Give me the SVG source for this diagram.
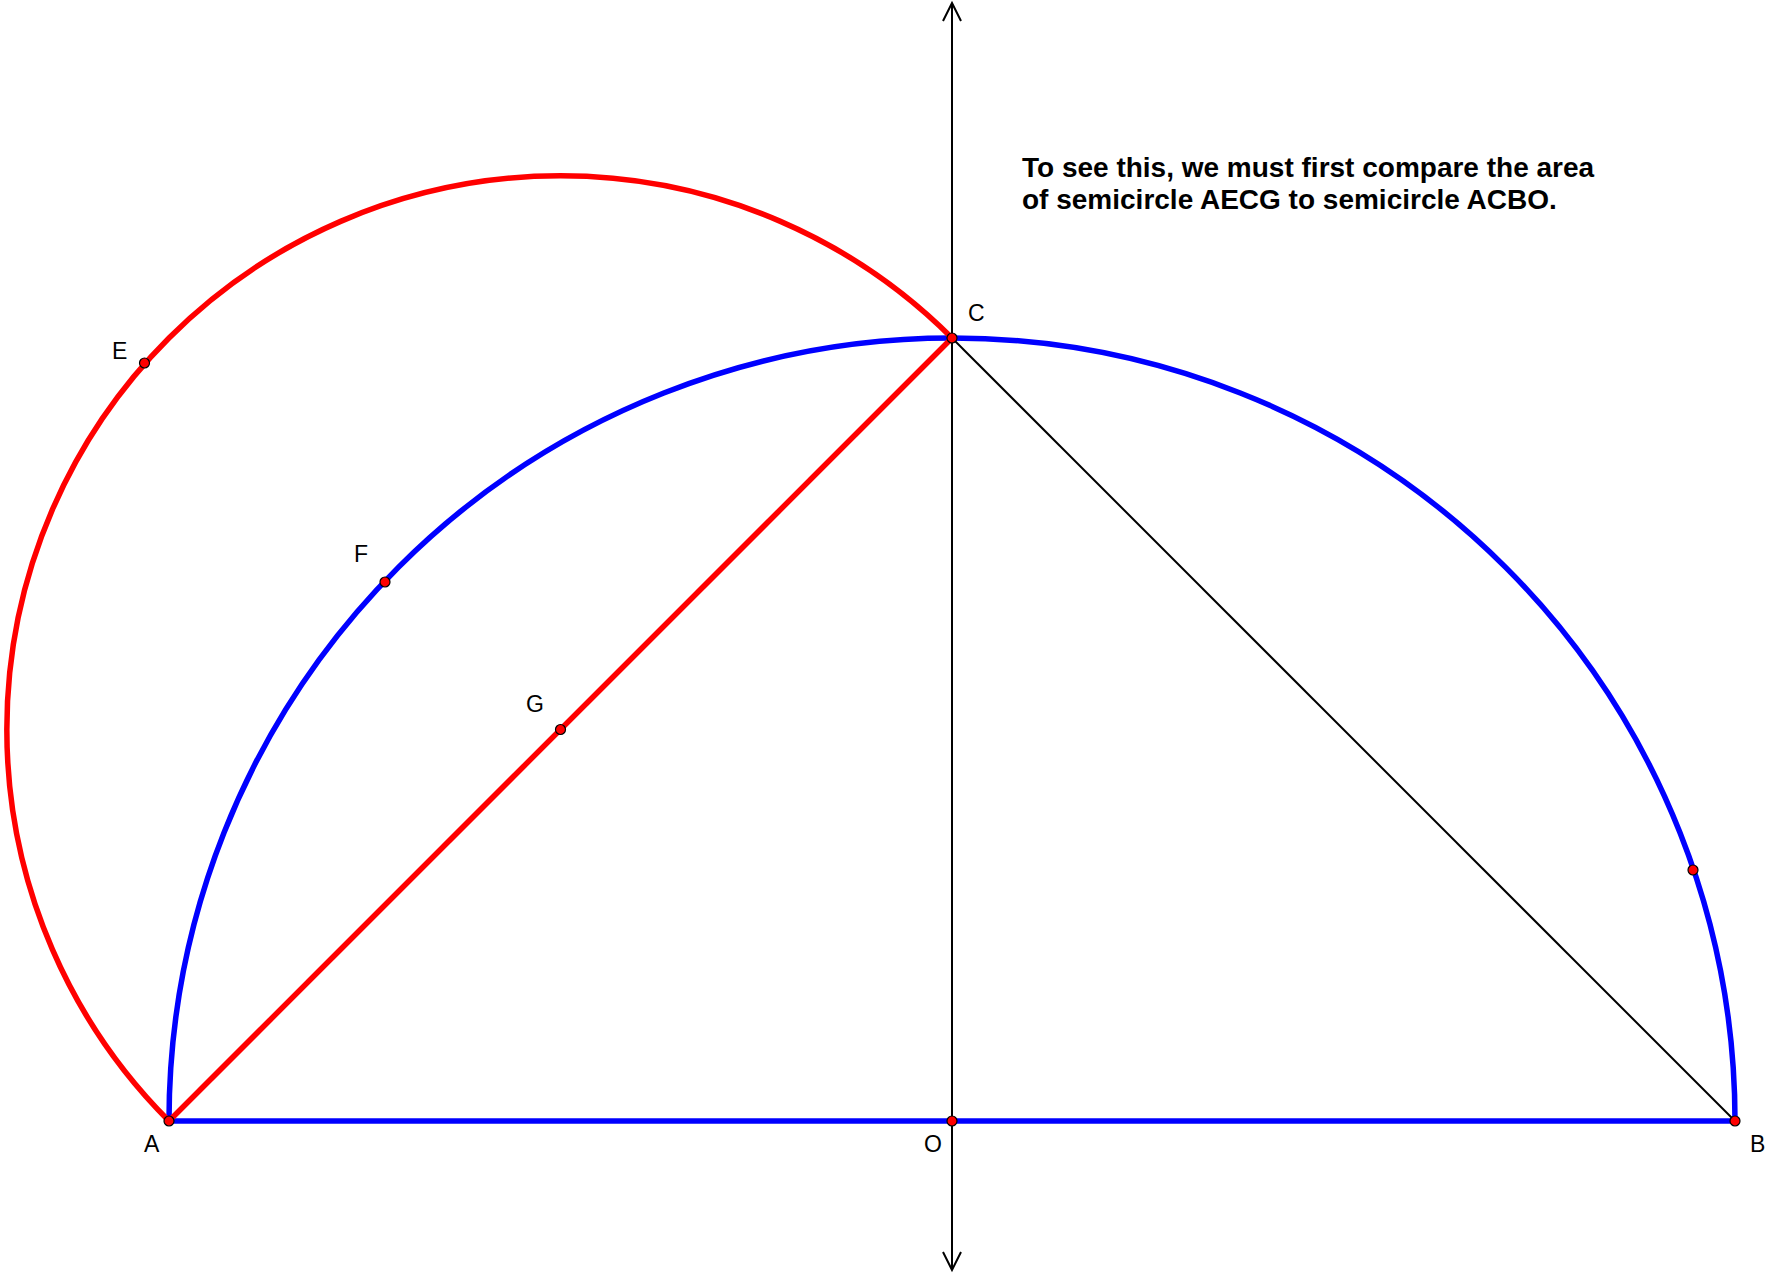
<svg xmlns="http://www.w3.org/2000/svg" width="1767" height="1274" viewBox="0 0 1767 1274">
<defs>
<style>
.ax{stroke:#000;stroke-width:2;fill:none}
.blue{stroke:#0000ff;stroke-width:5.5;fill:none}
.red{stroke:#ff0000;stroke-width:5.5;fill:none}
.pt{fill:#ff0000;stroke:#000;stroke-width:1.2}
.lbl{font-family:"Liberation Sans",Arial,sans-serif;font-size:23px;fill:#000}
.note{font-family:"Liberation Sans",Arial,sans-serif;font-size:28px;font-weight:bold;fill:#000}
</style>
</defs>
<rect width="1767" height="1274" fill="#fff"/>
<g id="connectors">
<line class="ax" x1="952" y1="3" x2="952" y2="1270"/>
<path class="ax" d="M943,21 L952,3 L961,21"/>
<path class="ax" d="M943,1252 L952,1270 L961,1252"/>
<line class="ax" x1="952" y1="338" x2="1735" y2="1121"/>
<line class="blue" x1="169" y1="1121" x2="1735" y2="1121"/>
<path class="blue" d="M169,1121 A500,500 0 0 1 1735,1121"/>
<path class="red" d="M169,1121 A400,400 0 0 1 952,338"/>
<line class="red" x1="169" y1="1121" x2="952" y2="338"/>
</g>
<g id="A"><circle class="pt" cx="169" cy="1121" r="5"/><text class="lbl" x="144" y="1152">A</text></g>
<g id="O"><circle class="pt" cx="952" cy="1121" r="5"/><text class="lbl" x="924" y="1152">O</text></g>
<g id="B"><circle class="pt" cx="1735" cy="1121" r="5"/><text class="lbl" x="1750" y="1152">B</text></g>
<g id="C"><circle class="pt" cx="952" cy="338" r="5"/><text class="lbl" x="968" y="321">C</text></g>
<g id="E"><circle class="pt" cx="144.5" cy="363" r="5"/><text class="lbl" x="112" y="359">E</text></g>
<g id="F"><circle class="pt" cx="385" cy="582" r="5"/><text class="lbl" x="354" y="562">F</text></g>
<g id="G"><circle class="pt" cx="560.5" cy="729.5" r="5"/><text class="lbl" x="526" y="712">G</text></g>
<g id="P"><circle class="pt" cx="1693" cy="870" r="5"/></g>
<g id="note">
<text class="note" x="1022" y="177">To see this, we must first compare the area</text>
<text class="note" x="1022" y="209">of semicircle AECG to semicircle ACBO.</text>
</g>
</svg>
